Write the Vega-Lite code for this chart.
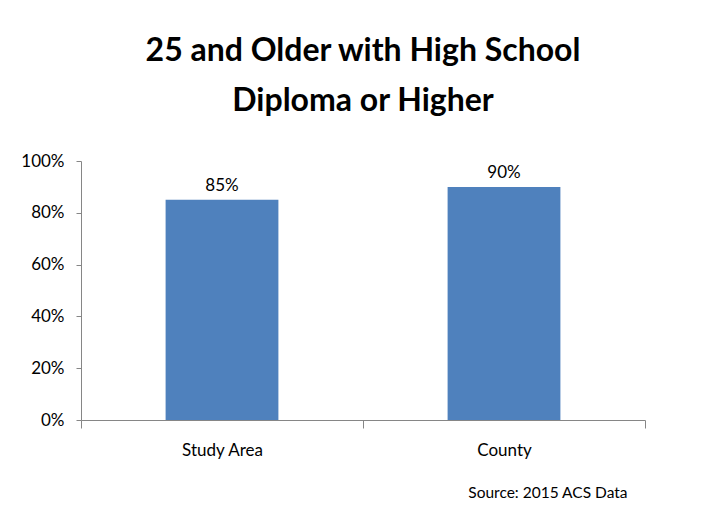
{
  "$schema": "https://vega.github.io/schema/vega-lite/v6.json",
  "autosize": "none",
  "width": 564,
  "height": 259,
  "padding": {"left": 81, "top": 161, "right": 66, "bottom": 98},
  "background": "white",
  "config": {"view": {"stroke": null}, "font": "Lato"},
  "title": {
    "text": ["25 and Older with High School", "Diploma or Higher"],
    "fontSize": 32,
    "fontWeight": "bold",
    "font": "Lato",
    "color": "#000000",
    "lineHeight": 50,
    "anchor": "middle",
    "offset": 34
  },
  "data": {"values": [
    {"area": "Study Area", "pct": 0.85},
    {"area": "County", "pct": 0.90}
  ]},
  "encoding": {
    "x": {
      "field": "area", "type": "nominal", "sort": null,
      "scale": {"paddingInner": 0, "paddingOuter": 0},
      "axis": {
        "title": "Source: 2015 ACS Data",
        "titleAnchor": "end",
        "titleFontSize": 15.5,
        "titleFontWeight": "normal",
        "titleColor": "#000000",
        "titlePadding": 27,
        "titleX": 546,
        "labelAngle": 0,
        "labelFontSize": 17,
        "labelColor": "#000000",
        "labelPadding": 14,
        "domainColor": "#868686",
        "tickColor": "#868686",
        "tickSize": 8,
        "tickBand": "extent",
        "grid": false
      }
    },
    "y": {
      "field": "pct", "type": "quantitative",
      "scale": {"domain": [0, 1]},
      "axis": {
        "title": null,
        "values": [0, 0.2, 0.4, 0.6, 0.8, 1],
        "format": ".0%",
        "labelFontSize": 17,
        "labelColor": "#000000",
        "labelPadding": 12,
        "domainColor": "#868686",
        "tickColor": "#868686",
        "tickSize": 5,
        "grid": false
      }
    }
  },
  "layer": [
    {"mark": {"type": "bar", "color": "#4F81BD", "width": {"band": 0.4}}},
    {"mark": {"type": "text", "baseline": "bottom", "dy": -5, "fontSize": 17, "color": "#000000"},
     "encoding": {"text": {"field": "pct", "type": "quantitative", "format": ".0%"}}}
  ]
}
